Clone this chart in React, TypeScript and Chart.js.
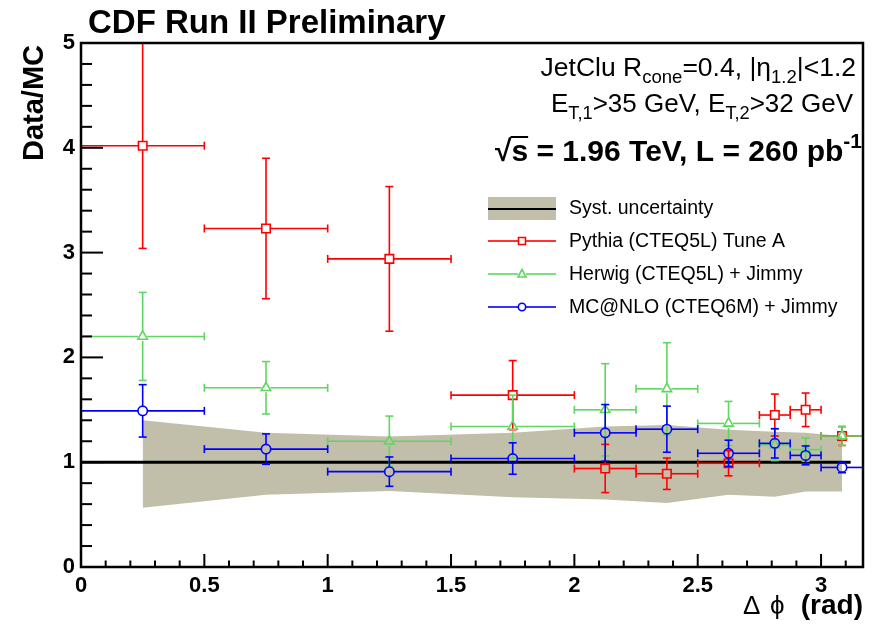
import { useEffect, useRef } from "react";
import { Chart, registerables } from "chart.js";

Chart.register(...registerables);

// ---- data ----
const binCenters = [0.25, 0.75, 1.25, 1.75, 2.125, 2.375, 2.625, 2.8125, 2.9375, 3.085];
const binLow = [0, 0.5, 1, 1.5, 2, 2.25, 2.5, 2.75, 2.875, 3.0];
const binHigh = [0.5, 1, 1.5, 2, 2.25, 2.5, 2.75, 2.875, 3.0, 3.17];

const pythiaValues = [4.02, 3.23, 2.94, 1.64, 0.94, 0.89, 0.99, 1.45, 1.5, 1.25];
const pythiaErrors = [0.98, 0.67, 0.69, 0.33, 0.23, 0.15, 0.12, 0.2, 0.16, 0.09];
const herwigValues = [2.2, 1.71, 1.2, 1.34, 1.5, 1.7, 1.37, 1.165, 1.12, 1.25];
const herwigErrors = [0.42, 0.25, 0.24, 0.3, 0.44, 0.44, 0.21, 0.15, 0.11, 0.09];
const mcnloValues = [1.49, 1.125, 0.91, 1.035, 1.28, 1.315, 1.085, 1.18, 1.065, 0.95];
const mcnloErrors = [0.25, 0.145, 0.14, 0.15, 0.27, 0.22, 0.125, 0.14, 0.09, 0.05];

const systUpper = [1.4, 1.28, 1.245, 1.28, 1.34, 1.355, 1.31, 1.29, 1.28, 1.25];
const systLower = [0.565, 0.69, 0.725, 0.665, 0.645, 0.61, 0.69, 0.67, 0.72, 0.72];

const unityX = [0, 3.12];
const unityY = [1, 1];

const xTickValues = [0, 0.5, 1, 1.5, 2, 2.5, 3];
const yTickValues = [0, 1, 2, 3, 4, 5];

const X_MIN = 0;
const X_MAX = 3.17;
const Y_MIN = 0;
const Y_MAX = 5;

const RED = "#ff0000";
const GREEN = "#5fd65f";
const BLUE = "#0000ff";
const BAND = "#c1bfaa";
const FONT = "'Liberation Sans', Arial, Helvetica, sans-serif";

type Part = { t: string; sub?: boolean; sup?: boolean };

function drawRich(ctx: CanvasRenderingContext2D, parts: Part[], rightX: number, baseline: number, size: number, bold: boolean) {
  const w = bold ? "bold " : "";
  const small = size * 0.7;
  let total = 0;
  const widths = parts.map((p) => {
    ctx.font = `${w}${p.sub || p.sup ? small : size}px ${FONT}`;
    const m = ctx.measureText(p.t).width;
    total += m;
    return m;
  });
  let x = rightX - total;
  ctx.textAlign = "left";
  ctx.textBaseline = "alphabetic";
  parts.forEach((p, i) => {
    ctx.font = `${w}${p.sub || p.sup ? small : size}px ${FONT}`;
    let y = baseline;
    if (p.sub) y += size * 0.28;
    if (p.sup) y -= size * 0.42;
    ctx.fillText(p.t, x, y);
    x += widths[i];
  });
  return rightX - total;
}

const errorBarPlugin = {
  id: "errorBars",
  beforeDatasetDraw(chart: any, args: any) {
    const ds = chart.data.datasets[args.index];
    if (!ds.errValues) return;
    const ctx: CanvasRenderingContext2D = chart.ctx;
    const xs = chart.scales.x;
    const ys = chart.scales.y;
    const a = chart.chartArea;
    ctx.save();
    ctx.beginPath();
    ctx.rect(a.left, a.top - 1, a.right - a.left + 1, a.bottom - a.top + 1);
    ctx.clip();
    ctx.strokeStyle = ds.borderColor;
    ctx.lineWidth = 1.6;
    const gap = ds.gap;
    const cap = 4;
    const seg = (x1: number, y1: number, x2: number, y2: number) => {
      ctx.beginPath();
      ctx.moveTo(x1, y1);
      ctx.lineTo(x2, y2);
      ctx.stroke();
    };
    binCenters.forEach((xc, i) => {
      const v = ds.errValues[i];
      const e = ds.errSizes[i];
      const px = xs.getPixelForValue(xc);
      const py = ys.getPixelForValue(v);
      const xl = xs.getPixelForValue(binLow[i]);
      const xh = xs.getPixelForValue(binHigh[i]);
      const yt = ys.getPixelForValue(Math.min(v + e, Y_MAX));
      const yb = ys.getPixelForValue(v - e);
      seg(xl, py, px - gap, py);
      seg(px + gap, py, xh, py);
      seg(px, yt, px, py - gap);
      seg(px, py + gap, px, yb);
      seg(xl, py - cap, xl, py + cap);
      seg(xh, py - cap, xh, py + cap);
      seg(px - cap, yt, px + cap, yt);
      seg(px - cap, yb, px + cap, yb);
    });
    ctx.restore();
  },
};

const decorPlugin = {
  id: "decor",
  afterDraw(chart: any) {
    const ctx: CanvasRenderingContext2D = chart.ctx;
    const xs = chart.scales.x;
    const ys = chart.scales.y;
    const a = chart.chartArea;
    ctx.save();
    ctx.strokeStyle = "#000";
    // ticks
    ctx.lineWidth = 2;
    for (let k = 0; k <= 25; k++) {
      const v = k * 0.2;
      const py = ys.getPixelForValue(v);
      const major = k % 5 === 0;
      ctx.beginPath();
      ctx.moveTo(a.left, py);
      ctx.lineTo(a.left + (major ? 22 : 11), py);
      ctx.stroke();
    }
    for (let k = 0; k <= 31; k++) {
      const v = k * 0.1;
      const px = xs.getPixelForValue(v);
      const major = k % 5 === 0;
      ctx.beginPath();
      ctx.moveTo(px, a.bottom);
      ctx.lineTo(px, a.bottom - (major ? 13 : 6.5));
      ctx.stroke();
    }
    // frame
    ctx.lineWidth = 2.5;
    ctx.strokeRect(a.left, a.top, a.right - a.left, a.bottom - a.top);

    ctx.fillStyle = "#000";
    // title
    ctx.font = `bold 33px ${FONT}`;
    ctx.textAlign = "left";
    ctx.textBaseline = "alphabetic";
    ctx.fillText("CDF Run II Preliminary", 88, 33);

    // y title
    ctx.save();
    ctx.translate(43, a.top + 2);
    ctx.rotate(-Math.PI / 2);
    ctx.font = `bold 29px ${FONT}`;
    ctx.textAlign = "right";
    ctx.textBaseline = "alphabetic";
    ctx.fillText("Data/MC", 0, 0);
    ctx.restore();

    // x title
    ctx.font = `26px ${FONT}`;
    ctx.textAlign = "left";
    ctx.fillText("\u0394", 743, 614);
    ctx.fillText("\u03d5", 770, 614);
    ctx.font = `bold 28px ${FONT}`;
    ctx.textAlign = "right";
    ctx.fillText("(rad)", a.right, 614);

    // info texts
    drawRich(
      ctx,
      [{ t: "JetClu R" }, { t: "cone", sub: true }, { t: "=0.4, |\u03b7" }, { t: "1.2", sub: true }, { t: "|<1.2" }],
      856, 76, 26.5, false
    );
    drawRich(
      ctx,
      [{ t: "E" }, { t: "T,1", sub: true }, { t: ">35 GeV, E" }, { t: "T,2", sub: true }, { t: ">32 GeV" }],
      853, 112, 26, false
    );
    const startX = drawRich(
      ctx,
      [{ t: "\u221as = 1.96 TeV, L = 260 pb" }, { t: "-1", sup: true }],
      862, 161, 30, true
    );
    // radical overbar over "s"
    ctx.font = `bold 30px ${FONT}`;
    const rw = ctx.measureText("\u221a").width;
    const sw = ctx.measureText("s").width;
    ctx.lineWidth = 2;
    ctx.beginPath();
    ctx.moveTo(startX + rw - 1, 161 - 24);
    ctx.lineTo(startX + rw + sw, 161 - 24);
    ctx.stroke();

    // legend
    const lx0 = 488, lx1 = 556, lxm = 522, tx = 569;
    ctx.fillStyle = BAND;
    ctx.fillRect(lx0, 197, lx1 - lx0, 23);
    ctx.strokeStyle = "#000";
    ctx.lineWidth = 2;
    ctx.beginPath(); ctx.moveTo(lx0, 209); ctx.lineTo(lx1, 209); ctx.stroke();

    const legRows = [
      { y: 241, color: RED, marker: "rect" },
      { y: 274, color: GREEN, marker: "tri" },
      { y: 307, color: BLUE, marker: "circ" },
    ];
    legRows.forEach((r) => {
      ctx.strokeStyle = r.color;
      ctx.lineWidth = 1.6;
      ctx.beginPath(); ctx.moveTo(lx0, r.y); ctx.lineTo(lxm - 4, r.y); ctx.stroke();
      ctx.beginPath(); ctx.moveTo(lxm + 4, r.y); ctx.lineTo(lx1, r.y); ctx.stroke();
      ctx.beginPath();
      if (r.marker === "rect") ctx.rect(lxm - 3.5, r.y - 3.5, 7, 7);
      else if (r.marker === "tri") {
        ctx.moveTo(lxm, r.y - 4.5);
        ctx.lineTo(lxm + 4, r.y + 3);
        ctx.lineTo(lxm - 4, r.y + 3);
        ctx.closePath();
      } else ctx.arc(lxm, r.y, 3.7, 0, Math.PI * 2);
      ctx.stroke();
    });
    ctx.fillStyle = "#000";
    ctx.font = `19.5px ${FONT}`;
    ctx.textAlign = "left";
    ctx.textBaseline = "alphabetic";
    ctx.fillText("Syst. uncertainty", tx, 214);
    ctx.fillText("Pythia (CTEQ5L) Tune A", tx, 247);
    ctx.fillText("Herwig (CTEQ5L) + Jimmy", tx, 280);
    ctx.fillText("MC@NLO (CTEQ6M) + Jimmy", tx, 313);
    ctx.restore();
  },
};

export default function App() {
  const ref = useRef<HTMLCanvasElement | null>(null);
  useEffect(() => {
    document.body.style.margin = "0";
    const canvas = ref.current!;
    const pts = (vals: number[]) => binCenters.map((x, i) => ({ x, y: vals[i] }));
    const chart = new Chart(canvas, {
      type: "scatter",
      data: {
        datasets: [
          {
            label: "syst upper",
            type: "line",
            data: pts(systUpper),
            borderWidth: 0,
            borderColor: BAND,
            backgroundColor: BAND,
            pointRadius: 0,
            fill: "+1",
            tension: 0,
            order: 10,
          } as any,
          {
            label: "syst lower",
            type: "line",
            data: pts(systLower),
            borderWidth: 0,
            borderColor: BAND,
            backgroundColor: BAND,
            pointRadius: 0,
            fill: false,
            tension: 0,
            order: 10,
          } as any,
          {
            label: "unity",
            type: "line",
            data: unityX.map((x, i) => ({ x, y: unityY[i] })),
            borderWidth: 3,
            borderColor: "#000",
            pointRadius: 0,
            fill: false,
            order: 9,
          } as any,
          {
            label: "Pythia (CTEQ5L) Tune A",
            data: pts(pythiaValues),
            errValues: pythiaValues,
            errSizes: pythiaErrors,
            gap: 4.5,
            pointStyle: "rect",
            pointRadius: 6,
            borderColor: RED,
            backgroundColor: "rgba(0,0,0,0)",
            pointBorderWidth: 1.6,
            order: 3,
          } as any,
          {
            label: "Herwig (CTEQ5L) + Jimmy",
            data: pts(herwigValues),
            errValues: herwigValues,
            errSizes: herwigErrors,
            gap: 4.5,
            pointStyle: "triangle",
            pointRadius: 5.5,
            borderColor: GREEN,
            backgroundColor: "rgba(0,0,0,0)",
            pointBorderWidth: 1.6,
            order: 2,
          } as any,
          {
            label: "MC@NLO (CTEQ6M) + Jimmy",
            data: pts(mcnloValues),
            errValues: mcnloValues,
            errSizes: mcnloErrors,
            gap: 4.5,
            pointStyle: "circle",
            pointRadius: 4.7,
            borderColor: BLUE,
            backgroundColor: "rgba(0,0,0,0)",
            pointBorderWidth: 1.6,
            order: 1,
          } as any,
        ],
      },
      options: {
        responsive: false,
        animation: false,
        devicePixelRatio: 1,
        layout: { padding: { top: 43, right: 15, left: 0, bottom: 0 } },
        plugins: {
          legend: { display: false },
          title: { display: false },
          tooltip: { enabled: false },
        },
        events: [],
        scales: {
          x: {
            type: "linear",
            min: X_MIN,
            max: X_MAX,
            grid: { display: false, drawTicks: false },
            border: { display: false },
            ticks: {
              autoSkip: false,
              maxRotation: 0,
              padding: 6,
              color: "#000",
              font: { family: FONT, weight: "bold", size: 22 },
              callback: (v: any) => String(v),
            },
            afterBuildTicks: (s: any) => {
              s.ticks = xTickValues.map((v) => ({ value: v }));
            },
            afterFit: (s: any) => {
              s.height = 62;
            },
          },
          y: {
            type: "linear",
            min: Y_MIN,
            max: Y_MAX,
            grid: { display: false, drawTicks: false },
            border: { display: false },
            ticks: {
              autoSkip: false,
              padding: 6,
              color: "#000",
              font: { family: FONT, weight: "bold", size: 22 },
              callback: (v: any) => String(v),
            },
            afterBuildTicks: (s: any) => {
              s.ticks = yTickValues.map((v) => ({ value: v }));
            },
            afterFit: (s: any) => {
              s.width = 81;
            },
          },
        },
      } as any,
      plugins: [errorBarPlugin, decorPlugin],
    });
    return () => chart.destroy();
  }, []);
  return <canvas ref={ref} width={878} height={629} style={{ display: "block", width: 878, height: 629 }} />;
}
